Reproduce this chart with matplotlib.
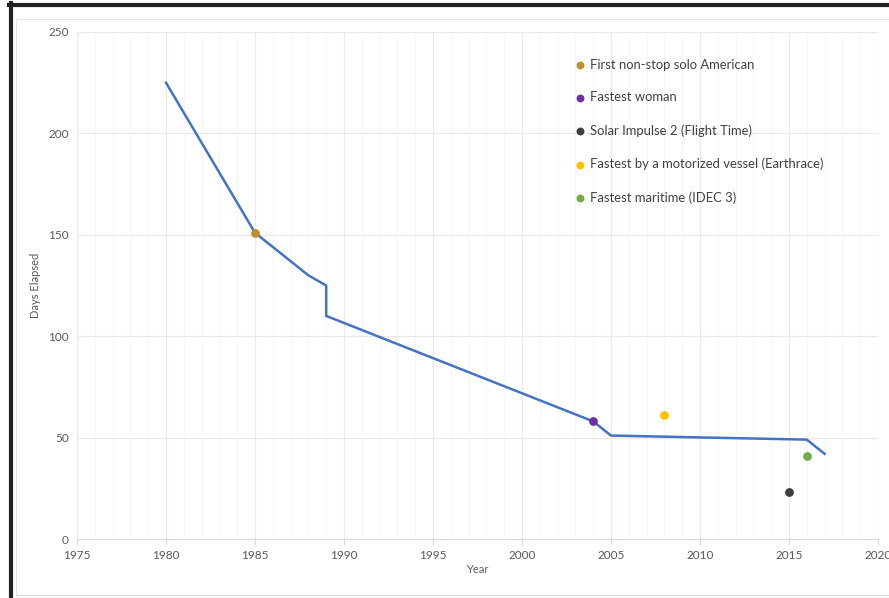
import matplotlib
import numpy as np

matplotlib.use('Agg')
from matplotlib import pyplot as plt
from matplotlib.lines import Line2D
from matplotlib.ticker import MultipleLocator

plt.rcParams['font.family'] = ['Lato', 'DejaVu Sans']

# record progression (days elapsed)
rec_year = [1980, 1985, 1988, 1989, 1989, 2004, 2005, 2016, 2017]
rec_days = [225, 151, 130, 125, 110, 58, 51, 49, 42]

# notable circumnavigations
pt_labels = ["First non-stop solo American", "Fastest woman",
             "Solar Impulse 2 (Flight Time)",
             "Fastest by a motorized vessel (Earthrace)",
             "Fastest maritime (IDEC 3)"]
pt_year = [1985, 2004, 2015, 2008, 2016]
pt_days = [151, 58, 23, 61, 41]
pt_colors = ["#BF8F2F", "#7030A0", "#404040", "#FFC000", "#70AD47"]

fig = plt.figure(figsize=(8.89, 5.98), dpi=100)
W, H = 889.0, 598.0

# outer frame: dark left/top edges, light inner edge
fig.add_artist(Line2D([10.5/W, 10.5/W], [0, 1 - 3/H], color="#222222", lw=3))
fig.add_artist(Line2D([9/W, 1], [1 - 4.5/H, 1 - 4.5/H], color="#222222", lw=3))
fig.add_artist(Line2D([16/W, 1], [1 - 19/H, 1 - 19/H], color="#E6E6E6", lw=0.8))
fig.add_artist(Line2D([16/W, 16/W], [3/H, 1 - 19/H], color="#E6E6E6", lw=0.8))
fig.add_artist(Line2D([16/W, 1], [3/H, 3/H], color="#D9D9D9", lw=0.8))

ax = fig.add_axes([77/W, 59/H, 801/W, 507/H])
ax.plot(rec_year, rec_days, color="#4472C4", lw=1.8, zorder=3)
for lab, x, y, c in zip(pt_labels, pt_year, pt_days, pt_colors):
    ax.scatter([x], [y], s=40, color=c, label=lab, zorder=4, linewidths=0)

ax.set_xlim(1975, 2020)
ax.set_ylim(0, 250)
ax.xaxis.set_major_locator(MultipleLocator(5))
ax.xaxis.set_minor_locator(MultipleLocator(1))
ax.yaxis.set_major_locator(MultipleLocator(50))
ax.grid(which="major", color="#EDE8E6", lw=0.9)
ax.grid(which="minor", axis="x", color="#F6F6F6", lw=0.8)
ax.set_axisbelow(True)
for s in ax.spines.values():
    s.set_visible(False)
ax.spines["bottom"].set_visible(True)
ax.spines["bottom"].set_color("#E0D8D6")
ax.spines["left"].set_visible(True)
ax.spines["left"].set_color("#EDE8E6")
ax.tick_params(which="both", length=0, colors="#595959", labelsize=8.5, pad=6)
ax.tick_params(axis="x", which="major", length=4, color="#E0D8D6", pad=4)
ax.set_xlabel("Year", fontsize=8, color="#595959", labelpad=2)
ax.set_ylabel("Days Elapsed", fontsize=8, color="#595959", labelpad=5)

ax.legend(loc="upper left", bbox_to_anchor=(566/W, 1 - 52/H),
          bbox_transform=fig.transFigure, frameon=False, fontsize=9.4,
          labelcolor="#404040", labelspacing=1.6, handletextpad=0.1,
          handlelength=1.2, markerscale=0.9, borderpad=0)

fig.savefig("out.png", dpi=100, facecolor="white")
